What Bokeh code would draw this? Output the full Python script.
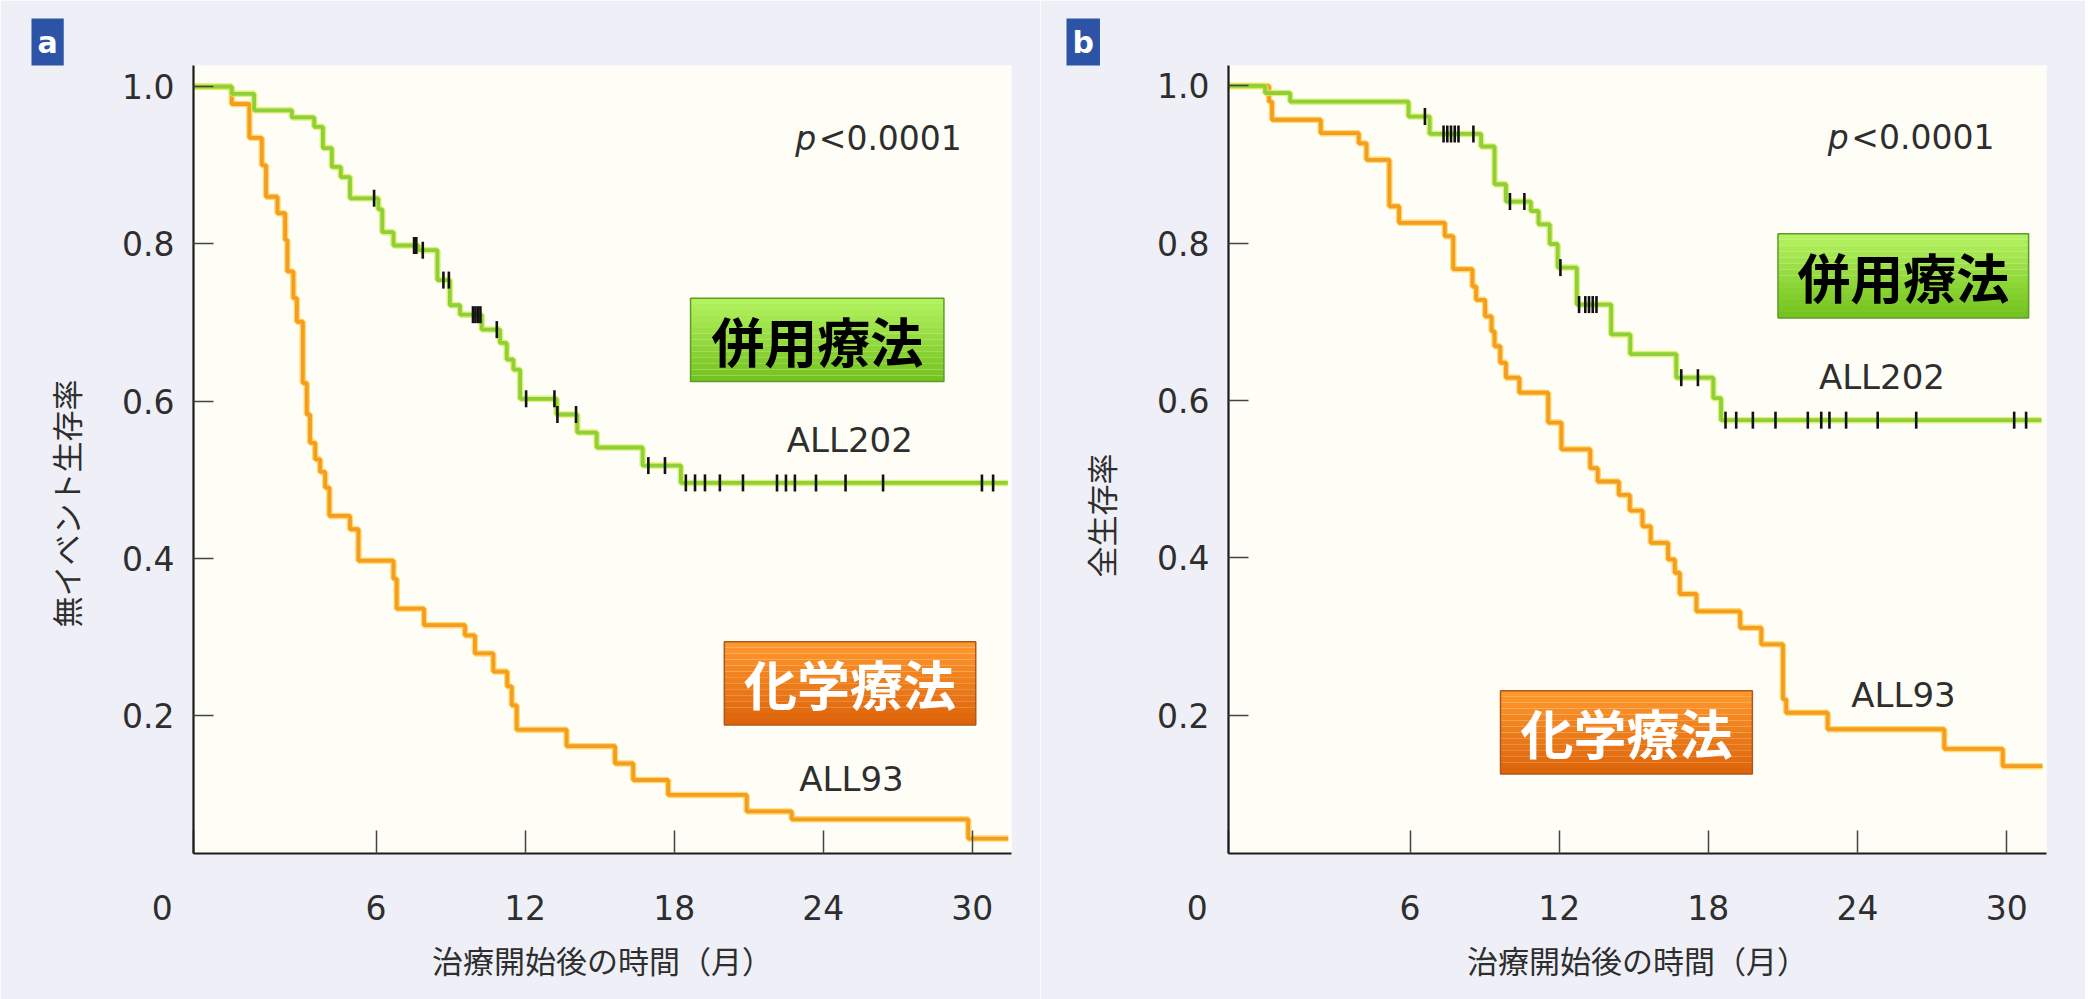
import numpy as np
from bokeh.plotting import figure
from bokeh.layouts import row
from bokeh.models import FixedTicker, PrintfTickFormatter, Label, Range1d, Title
from bokeh.embed import file_html
from bokeh.resources import INLINE

# ---------------- data ----------------
x_ticks = [6, 12, 18, 24, 30]
y_ticks = [0.2, 0.4, 0.6, 0.8, 1.0]
x_title = "治療開始後の時間（月）"

# panel a : event-free survival
a_title = "無イベント生存率"
a_all202_t = [0.19, 1.09, 2.61, 3.51, 3.86, 4.22, 4.58, 4.95, 6.09, 6.25, 6.70, 7.70, 8.47,
              8.97, 9.38, 10.25, 10.99, 11.26, 11.53, 11.80, 13.27, 14.10, 14.88, 16.73, 18.27]
a_all202_s = [0.991, 0.970, 0.961, 0.949, 0.922, 0.898, 0.885, 0.858, 0.844, 0.815, 0.798, 0.792,
              0.754, 0.722, 0.710, 0.691, 0.674, 0.653, 0.640, 0.603, 0.583, 0.560, 0.541, 0.518, 0.496]
a_all202_censor = [5.92, 7.53, 7.62, 7.88, 8.71, 8.93, 9.90, 10.0, 10.1, 10.2, 10.86, 12.04, 13.18,
                   13.30, 14.05, 16.96, 17.63, 18.47, 18.84, 19.24, 19.84, 20.77, 22.14, 22.50,
                   22.86, 23.71, 24.90, 26.41, 30.39, 30.84]
a_all202_end = 31.43
a_all93_t = [0.19, 0.90, 1.40, 1.57, 2.03, 2.34, 2.43, 2.67, 2.81, 3.05, 3.21, 3.34, 3.55, 3.75,
             3.95, 4.12, 4.95, 5.29, 6.70, 6.83, 7.93, 9.58, 9.98, 10.72, 11.28, 11.46, 11.66,
             13.67, 15.62, 16.35, 17.76, 20.92, 22.73, 29.84]
a_all93_s = [0.978, 0.935, 0.900, 0.860, 0.839, 0.805, 0.765, 0.731, 0.701, 0.623, 0.583, 0.547,
             0.526, 0.510, 0.490, 0.454, 0.437, 0.397, 0.374, 0.336, 0.315, 0.302, 0.279, 0.256,
             0.237, 0.213, 0.182, 0.161, 0.139, 0.118, 0.099, 0.078, 0.068, 0.0435]
a_all93_end = 31.45

# panel b : overall survival
b_title = "全生存率"
b_all202_t = [0.17, 1.18, 5.94, 6.79, 8.86, 9.40, 9.86, 10.86, 11.17, 11.62, 11.94, 12.71,
              14.09, 14.86, 16.71, 18.20, 18.51]
b_all202_s = [0.991, 0.980, 0.961, 0.939, 0.923, 0.875, 0.853, 0.841, 0.824, 0.799, 0.769,
              0.722, 0.684, 0.659, 0.629, 0.603, 0.575]
b_all202_censor = [6.60, 7.35, 7.50, 7.65, 7.80, 7.95, 8.55, 10.02, 10.60, 12.05, 12.80, 13.05,
                   13.20, 13.35, 13.50, 16.91, 17.58, 18.69, 19.12, 19.79, 20.70, 22.00, 22.54,
                   22.87, 23.54, 24.81, 26.36, 30.30, 30.78]
b_all202_end = 31.40
b_all93_t = [0.33, 0.45, 2.41, 3.94, 4.25, 5.17, 5.56, 7.40, 7.74, 8.51, 8.66, 9.02, 9.28, 9.40,
             9.63, 9.86, 10.40, 11.56, 12.09, 13.25, 13.55, 14.40, 14.84, 15.35, 15.68, 16.38,
             16.65, 16.85, 17.52, 19.28, 20.13, 21.00, 21.13, 22.80, 27.49, 29.84]
b_all93_s = [0.980, 0.957, 0.940, 0.927, 0.906, 0.847, 0.826, 0.809, 0.767, 0.745, 0.728, 0.707,
             0.688, 0.669, 0.648, 0.629, 0.610, 0.572, 0.538, 0.514, 0.497, 0.480, 0.460, 0.440,
             0.419, 0.398, 0.381, 0.354, 0.332, 0.311, 0.290, 0.220, 0.203, 0.182, 0.157, 0.135]
b_all93_end = 31.44

series_names = ["ALL202", "ALL93"]
box_texts = ["併用療法", "化学療法"]
p_text = "<0.0001"

# ---------------- style ----------------
BORDER_BG = "#eff0f7"
FRAME_BG = "#fefef7"
GREEN = "#8fd03a"
GREEN_HALO = "#d9ec55"
ORANGE = "#f59c22"
ORANGE_HALO = "#ffd24a"
TXT = "#2e2e2e"
LAT = "DejaVu Sans"
CJK = "Noto Sans CJK JP"
FIG_H = 999


def step_xy(x0, t, s, t_end):
    xs = [x0] + list(t) + [t_end]
    ys = [1.0] + list(s) + [s[-1]]
    return xs, ys


def level_at(t, s, when):
    idx = np.searchsorted(np.asarray(t), np.asarray(when), side="right") - 1
    arr = np.asarray([1.0] + list(s))
    return arr[idx + 1]


def grad_box(p, left, right, bottom, top, c_top, c_bot, edge, n=14):
    edges = np.linspace(top, bottom, n + 1)
    c1 = np.array([int(c_top[i:i + 2], 16) for i in (1, 3, 5)])
    c2 = np.array([int(c_bot[i:i + 2], 16) for i in (1, 3, 5)])
    cols = []
    for k in range(n):
        f = (k + 0.5) / n
        c = (c1 * (1 - f) + c2 * f).astype(int)
        cols.append("#%02x%02x%02x" % tuple(c))
    p.quad(left=left, right=right, top=list(edges[:-1]), bottom=list(edges[1:]),
           fill_color=cols, line_color=None)
    p.quad(left=left, right=right, top=top, bottom=bottom, fill_color=None,
           line_color=edge, line_width=1.5)


def panel(cfg):
    frame_h = cfg["frame_h"]
    p = figure(width=cfg["width"], height=FIG_H, output_backend="svg", toolbar_location=None,
               x_range=Range1d(*cfg["xr"]), y_range=Range1d(*cfg["yr"]),
               min_border_left=cfg["mbl"], min_border_right=cfg["mbr"],
               min_border_top=65, min_border_bottom=FIG_H - 65 - frame_h)
    p.background_fill_color = FRAME_BG
    p.border_fill_color = BORDER_BG
    p.outline_line_color = None
    p.grid.visible = False

    for ax in (p.xaxis[0], p.yaxis[0]):
        ax.axis_line_color = "#1a1a1a"
        ax.axis_line_width = 2.2
        ax.major_tick_line_color = "#444444"
        ax.major_tick_line_width = 1.5
        ax.major_tick_out = 0
        ax.minor_tick_line_color = None
        ax.major_label_text_font = LAT
        ax.major_label_text_font_size = "33px"
        ax.major_label_text_color = TXT

    # the "0" of the time axis sits left of the y axis in the original
    zero_pos = round(cfg["xr"][0] + 0.01, 2)
    p.xaxis.ticker = FixedTicker(ticks=[zero_pos] + x_ticks)
    p.xaxis.major_label_overrides = {zero_pos: "0\u2007\u2007\u2007"}
    p.xaxis.major_tick_in = 23
    p.xaxis.major_label_standoff = 35
    p.xaxis.axis_label = x_title
    p.xaxis.axis_label_text_font = CJK
    p.xaxis.axis_label_text_font_size = "31px"
    p.xaxis.axis_label_text_font_style = "normal"
    p.xaxis.axis_label_text_color = TXT
    p.xaxis.axis_label_standoff = 6
    p.yaxis.ticker = FixedTicker(ticks=y_ticks)
    p.yaxis.formatter = PrintfTickFormatter(format="%.1f")
    p.yaxis.major_tick_in = 20
    p.yaxis.major_label_standoff = 19

    # y axis title (placed lower than centre, as in the original)
    p.add_layout(Title(text=cfg["ytitle"], align="left", offset=cfg["yt_offset"],
                       standoff=cfg["yt_standoff"], text_font=CJK, text_font_size="31px",
                       text_font_style="normal", text_color=TXT), "left")
    # panel badge
    p.add_layout(Title(text=cfg["letter"], align="left", offset=-162, standoff=0,
                       text_font=LAT, text_font_size="30px", text_font_style="bold",
                       text_color="#ffffff", background_fill_color="#2c53a6",
                       padding=6), "above")

    x0 = cfg["xr"][0]
    xs, ys = step_xy(x0, cfg["t93"], cfg["s93"], cfg["e93"])
    p.step(xs, ys, mode="after", line_color=ORANGE_HALO, line_width=6.5, line_alpha=0.8)
    p.step(xs, ys, mode="after", line_color=ORANGE, line_width=3.8)
    xs, ys = step_xy(x0, cfg["t202"], cfg["s202"], cfg["e202"])
    p.step(xs, ys, mode="after", line_color=GREEN_HALO, line_width=6.5, line_alpha=0.8)
    p.step(xs, ys, mode="after", line_color=GREEN, line_width=3.8)
    cy = level_at(cfg["t202"], cfg["s202"], cfg["c202"])
    p.scatter(cfg["c202"], cy, marker="dash", angle=np.pi / 2, size=17,
              line_color="#111111", line_width=2.6)

    # treatment boxes
    gl, gr, gb, gt = cfg["gbox"]
    grad_box(p, gl, gr, gb, gt, "#b6f462", "#72c21c", "#5f9a2a")
    ol, orr, ob, ot = cfg["obox"]
    grad_box(p, ol, orr, ob, ot, "#ff9a2e", "#dc620a", "#b0561a")
    p.add_layout(Label(x=(gl + gr) / 2, y=(gb + gt) / 2, text=box_texts[0], text_align="center",
                       text_baseline="middle", text_font=CJK, text_font_style="bold",
                       text_font_size="53px", text_color="#000000"))
    p.add_layout(Label(x=(ol + orr) / 2, y=(ob + ot) / 2, text=box_texts[1], text_align="center",
                       text_baseline="middle", text_font=CJK, text_font_style="bold",
                       text_font_size="53px", text_color="#ffffff"))

    for name, (lx, ly) in zip(series_names, cfg["names"]):
        p.add_layout(Label(x=lx, y=ly, text=name, text_align="center", text_baseline="middle",
                           text_font=LAT, text_font_size="34px", text_color=TXT))
    px_, py_ = cfg["pval"]
    p.add_layout(Label(x=px_, y=py_, text="p", text_align="left", text_baseline="middle",
                       text_font=LAT, text_font_style="italic", text_font_size="33px",
                       text_color=TXT))
    p.add_layout(Label(x=px_ + 0.95, y=py_, text=p_text, text_align="left",
                       text_baseline="middle", text_font=LAT, text_font_size="33px",
                       text_color=TXT))
    return p


pa = panel(dict(width=1040, xr=(-1.35, 31.58), yr=(0.0245, 1.027), mbl=193, mbr=29, frame_h=791,
                t202=a_all202_t, s202=a_all202_s, c202=a_all202_censor, e202=a_all202_end,
                t93=a_all93_t, s93=a_all93_s, e93=a_all93_end,
                gbox=(18.66, 28.86, 0.625, 0.731), obox=(20.02, 30.14, 0.188, 0.294),
                names=[(25.07, 0.550), (25.14, 0.119)], pval=(22.87, 0.934),
                ytitle=a_title, yt_offset=226, yt_standoff=63, letter="a"))
pb = panel(dict(width=1045, xr=(-1.30, 31.60), yr=(0.024, 1.026), mbl=188, mbr=39, frame_h=788,
                t202=b_all202_t, s202=b_all202_s, c202=b_all202_censor, e202=b_all202_end,
                t93=b_all93_t, s93=b_all93_s, e93=b_all93_end,
                gbox=(20.80, 30.88, 0.705, 0.812), obox=(9.64, 19.77, 0.125, 0.231),
                names=[(24.98, 0.630), (25.85, 0.225)], pval=(22.80, 0.934),
                ytitle=b_title, yt_offset=276, yt_standoff=64, letter="b"))

layout = row(pa, pb)
open("out.html", "w").write(file_html(layout, INLINE))
